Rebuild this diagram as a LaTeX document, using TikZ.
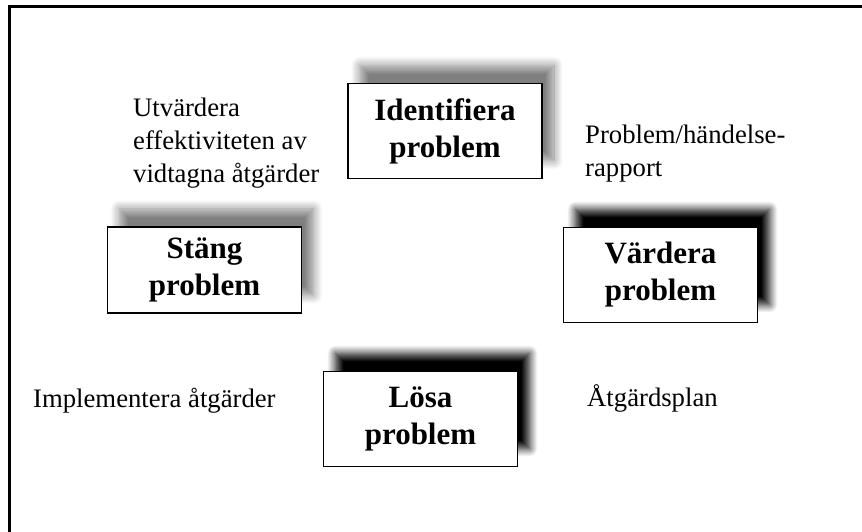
\documentclass[tikz,border=0pt]{standalone}
\usepackage{fontspec}
\setmainfont{Liberation Serif}
\usetikzlibrary{shadows.blur}

\begin{document}
\begin{tikzpicture}[x=1pt,y=1pt]
 \useasboundingbox (0,0) rectangle (862,531);
 \draw [line width=2.2pt] (9.5,-10) |- (880,524.5);
 \tikzstyle{note} = [anchor=west,inner sep=0pt,align=left,font=\fontsize{26.7pt}{33pt}\selectfont]
 \node[note] (evaluate) at (133,388) {Utvärdera\\effektiviteten av\\vidtagna åtgärder};
 \node[note] (report) at (585,377.7) {Problem/händelse-\\rapport};
 \node[note,anchor=base west] (implement) at (33,124) {Implementera åtgärder};
 \node[note,anchor=base west] (plan) at (587,125) {Åtgärdsplan};
 \tikzstyle{probbox} = [draw,fill=white,line width=1.3pt,minimum width=194pt,minimum height=95pt,align=center,font=\bfseries\fontsize{31pt}{37pt}\selectfont]
 \tikzstyle{grayshadow} = [blur shadow={shadow xshift=12pt,shadow yshift=18pt,shadow blur radius=9pt,shadow blur steps=12,shadow opacity=50}]
 \tikzstyle{darkshadow} = [blur shadow={shadow xshift=12pt,shadow yshift=18pt,shadow blur radius=8pt,shadow blur steps=12,shadow opacity=100}]
 \node[probbox,grayshadow] (identify) at (445,400) {Identifiera\\problem};
 \node[probbox,grayshadow,minimum height=86pt] (close) at (204.5,261) {Stäng\\problem};
 \node[probbox,darkshadow] (assess) at (660.5,256) {Värdera\\problem};
 \node[probbox,darkshadow] (solve) at (420.5,112) {Lösa\\problem};
\end{tikzpicture}
\end{document}
